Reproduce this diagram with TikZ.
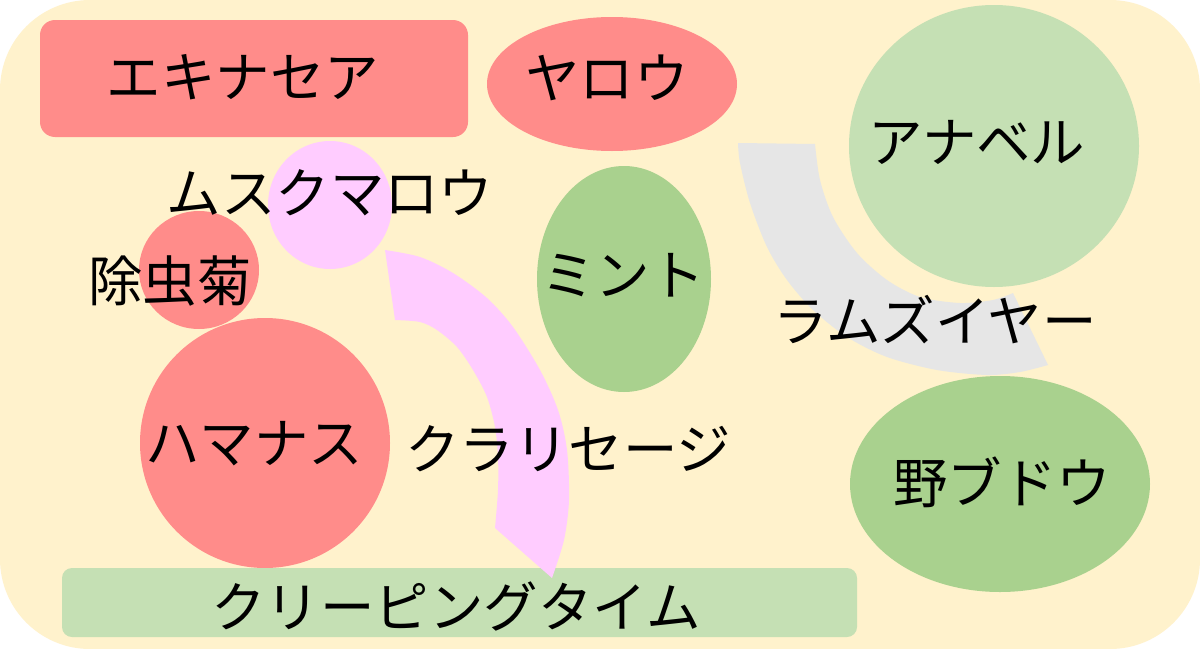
\documentclass[tikz,border=0pt]{standalone}
\usepackage{fontspec}
\newfontfamily\jpfont{Noto Sans CJK JP}
\definecolor{bedcream}{HTML}{FFF2CC}
\definecolor{bedred}{HTML}{FF8C8A}
\definecolor{bedsage}{HTML}{C5E0B4}
\definecolor{bedmoss}{HTML}{A9D18E}
\definecolor{bedpink}{HTML}{FFCCFF}
\definecolor{bedgray}{HTML}{E6E6E6}
\begin{document}
\begin{tikzpicture}[x=0.02cm, y=-0.02cm,
  plant/.style={font=\jpfont\fontsize{31}{31}\selectfont, inner sep=0pt},
  redbed/.style={fill=bedred},
  sagebed/.style={fill=bedsage},
  mossbed/.style={fill=bedmoss},
  pinkbed/.style={fill=bedpink},
  graybed/.style={fill=bedgray}]
\useasboundingbox (0,0) rectangle (1200,649);
\fill[white] (0,0) rectangle (1200,649);
\fill[bedcream, rounded corners=1.8cm] (0,0) rectangle (1200,649);
% beds
\fill[redbed, rounded corners=0.3cm] (40,20) rectangle (468,137);
\fill[redbed] (612,84) ellipse [x radius=125, y radius=67];
\fill[sagebed] (994,146) ellipse [x radius=145, y radius=141];
\fill[pinkbed] (330,205) ellipse [x radius=62, y radius=64];
\fill[redbed] (199,270) ellipse [x radius=60, y radius=59];
\fill[redbed] (265,443) ellipse [x radius=125, y radius=125];
\fill[mossbed] (624,279) ellipse [x radius=87, y radius=113];
\fill[mossbed] (1000,484) ellipse [x radius=150, y radius=108];
\fill[sagebed, rounded corners=0.2cm] (62,568) rectangle (857,637);
\fill[graybed] plot[smooth] coordinates {(738,143) (740,163) (750,203) (767,247) (787,280) (813,310) (847,337) (887,357) (937,370) (987,375) (1020,372) (1048,365)}
  -- plot[smooth] coordinates {(1013,293) (993,300) (960,303) (920,297) (887,280) (857,253) (833,217) (820,180) (815,144)} -- cycle;
\fill[pinkbed] plot[smooth] coordinates {(385,250) (420,257) (453,273) (487,298) (513,327) (540,370) (558,410) (567,450) (569,500) (564,540) (552,578)}
  -- plot[smooth] coordinates {(495,528) (498,490) (498,457) (495,427) (487,397) (473,370) (457,347) (437,330) (420,322) (395,320)} -- cycle;
% names
\node[plant] (echinacea) at (243,77) {エキナセア};
\node[plant] (yarrow) at (607,78) {ヤロウ};
\node[plant] (annabelle) at (977,142) {アナベル};
\node[plant] (muskmallow) at (330,193) {ムスクマロウ};
\node[plant] (pyrethrum) at (170,281) {除虫菊};
\node[plant] (mint) at (623,275) {ミント};
\node[plant] (lambsear) at (935,320) {ラムズイヤー};
\node[plant] (rugosa) at (254,444) {ハマナス};
\node[plant] (clarysage) at (568,449) {クラリセージ};
\node[plant] (wildgrape) at (1002,482) {野ブドウ};
\node[plant] (thyme) at (456,606) {クリーピングタイム};
\end{tikzpicture}
\end{document}
